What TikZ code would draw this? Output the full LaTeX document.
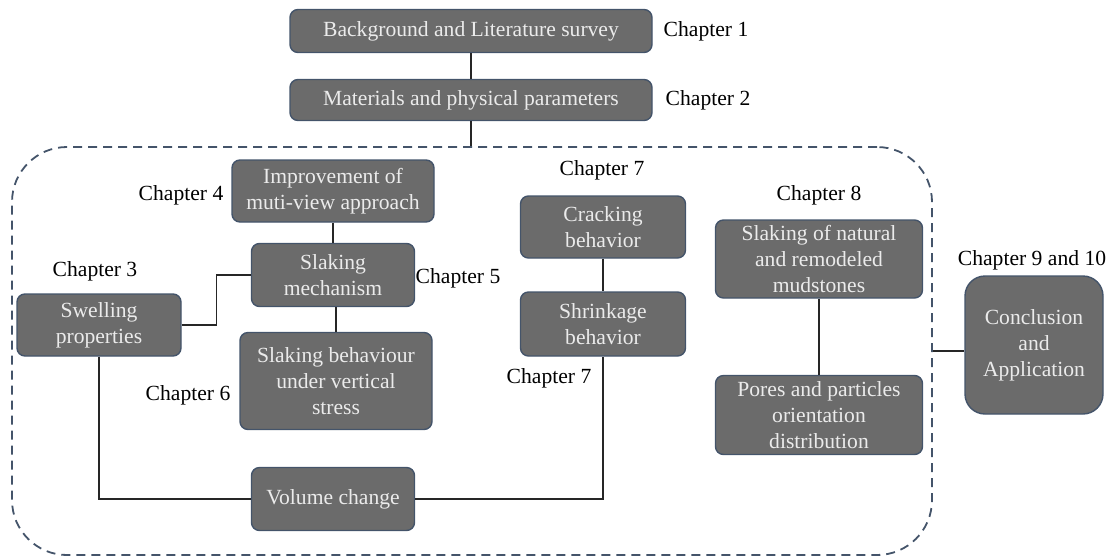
\documentclass[tikz,border=0pt]{standalone}
\usepackage{fontspec}
\setmainfont{Liberation Serif}
\definecolor{boxfill}{HTML}{6B6B6B}
\definecolor{boxedge}{HTML}{44546A}
\definecolor{framecol}{HTML}{44546A}
\definecolor{linecol}{HTML}{262626}

\begin{document}
\begin{tikzpicture}[x=1pt, y=-1pt,
  box/.style={draw=boxedge, fill=boxfill, text=white!92!black, rounded corners=8pt,
    line width=1.4pt, align=center, inner sep=2pt, font=\fontsize{21.6}{26}\selectfont},
  chap/.style={inner sep=0pt, font=\fontsize{21.6}{26}\selectfont},
  link/.style={draw=linecol, line width=1.4pt}]
\useasboundingbox (0,0) rectangle (1113,558);

% Capítulos 1 y 2
\node[box, minimum width=362pt, minimum height=43pt] (bg) at (471,31) {Background and Literature survey};
\node[box, minimum width=362pt, minimum height=41pt] (mat) at (471,100) {Materials and physical parameters};
\node[chap] (c1) at (706,31) {Chapter 1};
\node[chap] (c2) at (708,100) {Chapter 2};

% Marco discontinuo
\node[draw=framecol, line width=1.8pt, dash pattern=on 9pt off 6pt, rounded corners=55pt,
  minimum width=920pt, minimum height=408pt] (frame) at (472,351) {};

% Capítulos 3 a 6
\node[box, minimum width=202pt, minimum height=62pt] (impr) at (333,191) {Improvement of\\muti-view approach};
\node[box, minimum width=163pt, minimum height=63pt] (mech) at (333,275) {Slaking\\mechanism};
\node[box, minimum width=164pt, minimum height=62pt] (swell) at (99,325) {Swelling\\properties};
\node[box, minimum width=192pt, minimum height=97pt] (stress) at (336,381) {Slaking behaviour\\under vertical\\stress};
\node[box, minimum width=163pt, minimum height=63pt] (vol) at (333,499) {Volume change};
\node[chap] (c4) at (181,195) {Chapter 4};
\node[chap] (c3) at (95,271) {Chapter 3};
\node[chap] (c5) at (458,278) {Chapter 5};
\node[chap] (c6) at (188,395) {Chapter 6};

% Capítulo 7
\node[box, minimum width=165pt, minimum height=62pt] (crack) at (603,227) {Cracking\\behavior};
\node[box, minimum width=165pt, minimum height=64pt] (shrink) at (603,324) {Shrinkage\\behavior};
\node[chap] (c7a) at (602,170) {Chapter 7};
\node[chap] (c7b) at (549,378) {Chapter 7};

% Capítulo 8
\node[box, minimum width=207pt, minimum height=78pt] (natural) at (819,259) {Slaking of natural\\and remodeled\\mudstones};
\node[box, minimum width=207pt, minimum height=79pt] (pores) at (819,415) {Pores and particles\\orientation\\distribution};
\node[chap] (c8) at (819,195) {Chapter 8};

% Capítulos 9 y 10
\node[box, rounded corners=20pt, minimum width=138pt, minimum height=138pt] (concl) at (1034,345) {Conclusion\\and\\Application};
\node[chap] (c9) at (1032,260) {Chapter 9 and 10};

% Conexiones
\draw[link] (bg) -- (mat);
\draw[link] (mat) -- (mat |- frame.north);
\draw[link] (impr) -- (mech);
\draw[link] (swell.east) -- ++(35,0) |- (mech.west);
\draw[link] (stress.north) -- (stress.north |- mech.south);
\draw[link] (swell.south) |- (vol.west);
\draw[link] (vol.east) -| (shrink.south);
\draw[link] (crack) -- (shrink);
\draw[link] (natural) -- (pores);
\draw[link] (frame.east) -- (frame.east -| concl.west);
\end{tikzpicture}
\end{document}
